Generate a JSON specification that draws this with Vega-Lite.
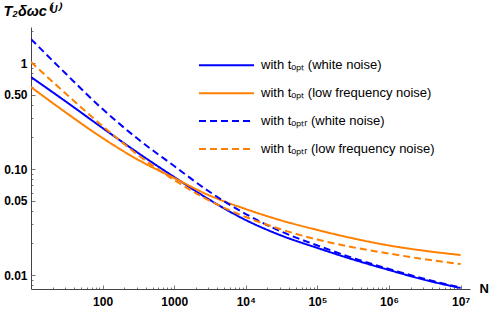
{
  "$schema": "https://vega.github.io/schema/vega-lite/v6.json",
  "width": 439,
  "height": 262,
  "autosize": {"type": "none"},
  "padding": {"left": 31, "top": 27, "right": 21, "bottom": 22},
  "background": "white",
  "config": {"view": {"stroke": null}, "font": "Liberation Sans"},
  "data": {"values": [
    {"N": 10, "ws": 0.7377, "ls": 0.594, "wd": 1.684, "ld": 1.022},
    {"N": 30, "ws": 0.4381, "ls": 0.345, "wd": 0.8049, "ld": 0.521},
    {"N": 100, "ws": 0.2437, "ls": 0.196, "wd": 0.368, "ld": 0.2545},
    {"N": 300, "ws": 0.1447, "ls": 0.1243, "wd": 0.196, "ld": 0.1385},
    {"N": 1000, "ws": 0.084, "ls": 0.0822, "wd": 0.1067, "ld": 0.0787},
    {"N": 3000, "ws": 0.0521, "ls": 0.0569, "wd": 0.062, "ld": 0.051},
    {"N": 10000, "ws": 0.033, "ls": 0.0419, "wd": 0.03763, "ld": 0.03525},
    {"N": 30000, "ws": 0.02384, "ls": 0.033, "wd": 0.026, "ld": 0.02716},
    {"N": 100000, "ws": 0.018, "ls": 0.0266, "wd": 0.019, "ld": 0.02162},
    {"N": 300000, "ws": 0.01415, "ls": 0.02234, "wd": 0.01463, "ld": 0.01837},
    {"N": 1000000, "ws": 0.01115, "ls": 0.019, "wd": 0.01139, "ld": 0.01595},
    {"N": 3000000, "ws": 0.00907, "ls": 0.017, "wd": 0.00927, "ld": 0.01416},
    {"N": 10000000, "ws": 0.00754, "ls": 0.01544, "wd": 0.00762, "ld": 0.0127}
  ]},
  "transform": [{"fold": ["ws", "ls", "wd", "ld"], "as": ["s", "v"]}],
  "mark": {"type": "line", "strokeWidth": 2, "interpolate": "monotone", "clip": true},
  "encoding": {
    "x": {
      "field": "N", "type": "quantitative",
      "scale": {"type": "log", "domain": [10, 13520000], "nice": false},
      "axis": {
        "values": [20,30,40,50,60,70,80,90,100,200,300,400,500,600,700,800,900,1000,2000,3000,4000,5000,6000,7000,8000,9000,10000,20000,30000,40000,50000,60000,70000,80000,90000,100000,200000,300000,400000,500000,600000,700000,800000,900000,1000000,2000000,3000000,4000000,5000000,6000000,7000000,8000000,9000000,10000000],
        "labelExpr": "datum.value==100?'100':datum.value==1000?'1000':datum.value==10000?'10⁴':datum.value==100000?'10⁵':datum.value==1000000?'10⁶':datum.value==10000000?'10⁷':''",
        "grid": false,
        "labelFlush": false,
        "labelOverlap": false,
        "labelBound": false,
        "labelFont": "Liberation Sans",
        "labelFontSize": 12,
        "labelFontWeight": "bold",
        "labelColor": "black",
        "labelPadding": 11,
        "domainColor": "#444",
        "tickColor": "#777",
        "tickSize": {"condition": {"test": "indexof([100,1000,10000,100000,1000000,10000000], datum.value) >= 0", "value": -4}, "value": -2},
        "title": "N",
        "titleX": 448,
        "titleY": -1,
        "titleAlign": "left",
        "titleBaseline": "middle",
        "titleFont": "Liberation Sans",
        "titleFontSize": 13,
        "titleFontWeight": "bold",
        "titleColor": "black"
      }
    },
    "y": {
      "field": "v", "type": "quantitative",
      "scale": {"type": "log", "domain": [0.00738, 2.19], "nice": false},
      "axis": {
        "values": [0.008,0.009,0.01,0.02,0.03,0.04,0.05,0.06,0.07,0.08,0.09,0.1,0.2,0.3,0.4,0.5,0.6,0.7,0.8,0.9,1,2],
        "labelExpr": "datum.value==0.01?'0.01':datum.value==0.05?'0.05':datum.value==0.1?'0.10':datum.value==0.5?'0.50':datum.value==1?'1':''",
        "grid": false,
        "labelFlush": false,
        "labelOverlap": false,
        "labelBound": false,
        "labelFont": "Liberation Sans",
        "labelFontSize": 12,
        "labelFontWeight": "bold",
        "labelColor": "black",
        "labelPadding": 8,
        "domainColor": "#444",
        "tickColor": "#777",
        "tickSize": {"condition": {"test": "indexof([0.01,0.05,0.1,0.5,1], datum.value) >= 0", "value": -4}, "value": -2},
        "title": "T₂δωᴄ⁽ᵁ⁾",
        "titleAngle": 0,
        "titleX": -28,
        "titleY": -12,
        "titleAlign": "left",
        "titleBaseline": "alphabetic",
        "titleFont": "Liberation Sans",
        "titleFontSize": 14.5,
        "titleFontStyle": "italic",
        "titleFontWeight": "bold",
        "titleColor": "black"
      }
    },
    "color": {
      "field": "s", "type": "nominal",
      "scale": {"domain": ["ws", "ls", "wd", "ld"], "range": ["#0000ff", "#ff8000", "#0000ff", "#ff8000"]},
      "legend": {
        "title": null, "orient": "none", "legendX": 183.5, "legendY": 26.3, "padding": 0,
        "symbolType": "M-2.5,0H2.5", "symbolSize": 484, "symbolStrokeWidth": 2, "symbolFillColor": "transparent",
        "labelOffset": 22.5, "rowPadding": 8.9, "labelFont": "Liberation Sans", "labelFontSize": 13, "labelColor": "black",
        "labelLimit": 300,
        "labelExpr": "datum.value=='ws'?'with tₒₚₜ (white noise)':datum.value=='ls'?'with tₒₚₜ (low frequency noise)':datum.value=='wd'?'with tₒₚₜᵣ (white noise)':'with tₒₚₜᵣ (low frequency noise)'"
      }
    },
    "strokeDash": {
      "field": "s", "type": "nominal",
      "scale": {"domain": ["ws", "ls", "wd", "ld"], "range": [[1, 0], [1, 0], [7, 4], [7, 4]]},
      "legend": {
        "title": null, "orient": "none", "legendX": 183.5, "legendY": 26.3, "padding": 0,
        "symbolType": "M-2.5,0H2.5", "symbolSize": 484, "symbolStrokeWidth": 2, "symbolFillColor": "transparent",
        "labelOffset": 22.5, "rowPadding": 8.9, "labelFont": "Liberation Sans", "labelFontSize": 13, "labelColor": "black",
        "labelLimit": 300,
        "labelExpr": "datum.value=='ws'?'with tₒₚₜ (white noise)':datum.value=='ls'?'with tₒₚₜ (low frequency noise)':datum.value=='wd'?'with tₒₚₜᵣ (white noise)':'with tₒₚₜᵣ (low frequency noise)'"
      }
    }
  }
}
